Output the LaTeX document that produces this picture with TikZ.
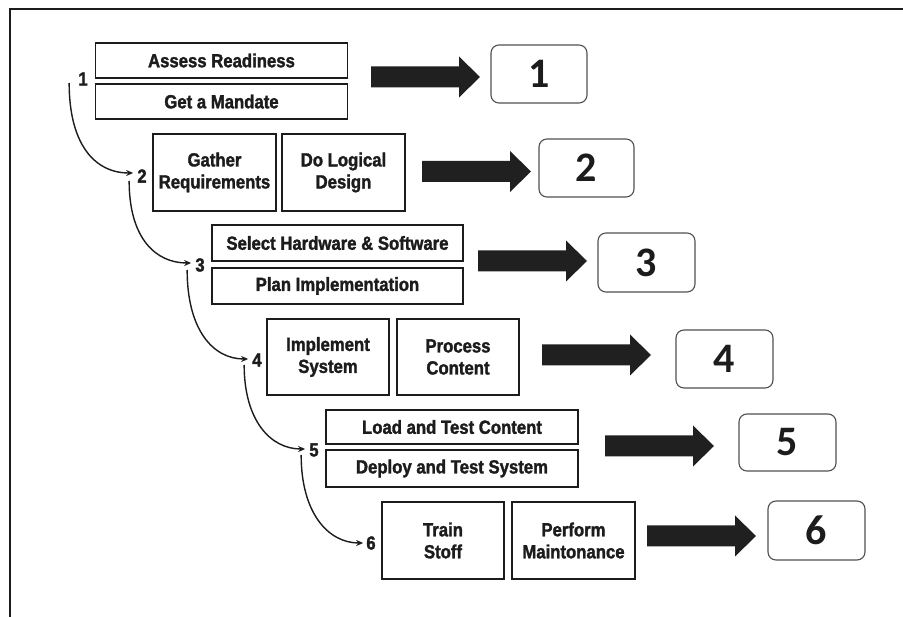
\documentclass[tikz,border=0pt]{standalone}
\usepackage{fontspec}
\usetikzlibrary{arrows.meta}
\newfontfamily\boxfont[FakeStretch=0.88,FakeBold=1.6]{Liberation Sans}
\newfontfamily\numfont{Carlito}
\definecolor{ink}{HTML}{1C1C1C}
\definecolor{arrowfill}{HTML}{202020}
\definecolor{numline}{HTML}{505050}
\tikzset{
  stepbox/.style={draw=ink, line width=1.8pt, fill=white, inner sep=0pt, align=center,
    font=\boxfont\bfseries\fontsize{19}{22}\selectfont, text=ink},
  widebox/.style={stepbox, minimum width=252pt, minimum height=35pt},
  sqbox/.style={stepbox, minimum width=122pt, minimum height=77pt},
  numbox/.style={draw=numline, line width=1.1pt, rounded corners=8pt, minimum width=96pt,
    minimum height=58pt, inner sep=0pt, font=\numfont\bfseries\fontsize{42}{42}\selectfont, text=ink},
  steplabel/.style={inner sep=1pt, font=\boxfont\bfseries\fontsize{19}{20}\selectfont, text=ink},
  flow/.style={draw=ink, line width=1.4pt, -{Stealth[length=7pt,width=6pt]}},
  bigarr/.pic={\fill[arrowfill] (0,-10.5) -- (88,-10.5) -- (88,-20.5) -- (109,0) -- (88,20.5) -- (88,10.5) -- (0,10.5) -- cycle;}
}
\begin{document}
\begin{tikzpicture}[x=1pt,y=-1pt]
\useasboundingbox (0,0) rectangle (903,617);
\fill[white] (0,0) rectangle (903,617);
% frame
\draw[ink, line width=2pt] (10,617) -- (10,9) -- (903,9);

% step boxes
\node[widebox] (ar) at (221.5,60.5) {Assess Readiness};
\node[widebox] (gm) at (221.5,101.5) {Get a Mandate};
\node[sqbox, minimum width=123pt] (gr) at (214.5,172.5) {Gather\\Requirements};
\node[sqbox, minimum width=123pt] (dl) at (343.5,172.5) {Do Logical\\Design};
\node[widebox, minimum width=251pt, minimum height=36pt] (sh) at (337.5,243) {Select Hardware \& Software};
\node[widebox, minimum width=251pt, minimum height=36pt] (pi) at (337.5,286) {Plan Implementation};
\node[sqbox, minimum height=76pt] (is) at (328,357) {Implement\\System};
\node[sqbox, minimum height=76pt] (pc) at (458,357) {Process\\Content};
\node[widebox, minimum height=34pt] (lt) at (452,427) {Load and Test Content};
\node[widebox, minimum height=37pt] (dt) at (452,468.5) {Deploy and Test System};
\node[sqbox] (ts) at (443,540.5) {Train\\Stoff};
\node[sqbox, minimum width=123pt] (pm) at (573.5,540.5) {Perform\\Maintonance};

% step labels
\node[steplabel] (l1) at (83,79) {1};
\node[steplabel] (l2) at (142,176) {2};
\node[steplabel] (l3) at (200,265) {3};
\node[steplabel] (l4) at (257,360) {4};
\node[steplabel] (l5) at (314,450) {5};
\node[steplabel] (l6) at (371,543) {6};

% curved flow arrows
\draw[flow] ([shift={(-8,4)}]l1.west) .. controls +(0,62) and +(-38,0) .. ([shift={(-3,-3)}]l2.west);
\draw[flow] ([shift={(-7,5)}]l2.west) .. controls +(0,58) and +(-35,0) .. ([shift={(-3,-2)}]l3.west);
\draw[flow] ([shift={(-7,5)}]l3.west) .. controls +(0,60) and +(-35,0) .. ([shift={(-3,-1)}]l4.west);
\draw[flow] ([shift={(-7,5)}]l4.west) .. controls +(0,55) and +(-35,0) .. ([shift={(-3,-1)}]l5.west);
\draw[flow] ([shift={(-7,5)}]l5.west) .. controls +(0,58) and +(-35,0) .. ([shift={(-2,0)}]l6.west);

% big arrows
\pic at (371,77) {bigarr};
\pic at (422,171.5) {bigarr};
\pic at (478,261) {bigarr};
\pic at (542,355) {bigarr};
\pic at (605,446) {bigarr};
\pic at (647,536) {bigarr};

% number boxes
\node[numbox] (n1) at (539,74) {1};
\node[numbox, minimum width=95pt] (n2) at (586.5,168) {2};
\node[numbox, minimum width=97pt, minimum height=59pt] (n3) at (646.5,262.5) {3};
\node[numbox, minimum width=97pt] (n4) at (724.5,359) {4};
\node[numbox, minimum width=97pt, minimum height=57pt] (n5) at (787.5,442.5) {5};
\node[numbox, minimum width=97pt, minimum height=59pt] (n6) at (816.5,530.5) {6};
\end{tikzpicture}
\end{document}
